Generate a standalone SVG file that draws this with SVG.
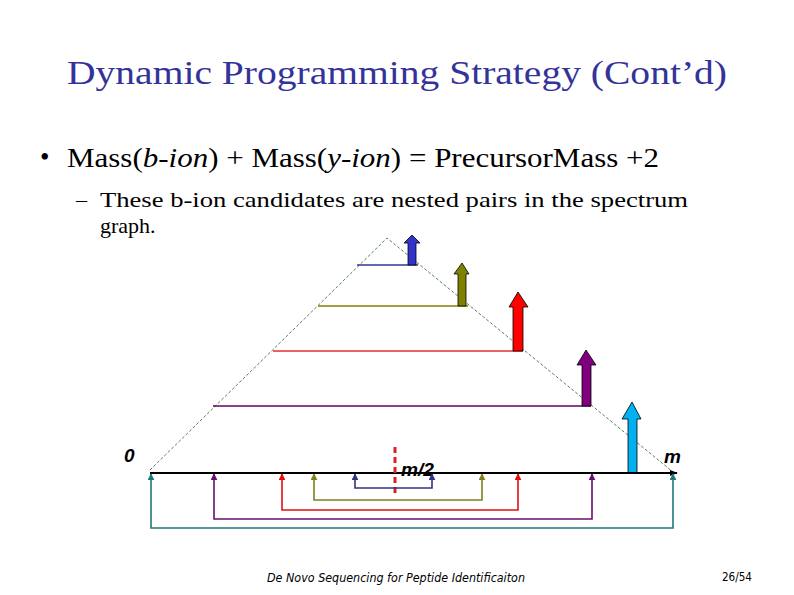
<svg xmlns="http://www.w3.org/2000/svg" width="794" height="595" viewBox="0 0 794 595">
<style>
.serif{font-family:"Liberation Serif","DejaVu Serif",serif}
.title{font-size:33px;fill:#333399}
.body{font-size:27px;fill:#000}
.sub{font-size:22px;fill:#000}
.lbl{font-family:"Liberation Sans",Arial,sans-serif;font-weight:bold;font-style:italic;font-size:19px;fill:#000}
.foot{font-family:"DejaVu Sans","Liberation Sans",sans-serif;font-size:11.5px;fill:#000}
.dash{stroke:#2f5f2f;stroke-width:0.8;stroke-dasharray:3,2;fill:none}
.lvl{stroke-width:1.3;fill:none}
.br{stroke-width:1.6;fill:none}
</style>
<defs>
<marker id="ah" viewBox="0 0 10 10" refX="9" refY="5" markerWidth="7" markerHeight="7" orient="auto-start-reverse" markerUnits="userSpaceOnUse"><path d="M0,0 L10,5 L0,10 z" fill="context-stroke"/></marker>
<marker id="ax" viewBox="0 0 10 10" refX="9" refY="5" markerWidth="8" markerHeight="8" orient="auto" markerUnits="userSpaceOnUse"><path d="M0,1 L10,5 L0,9 z" fill="#000"/></marker>
</defs>
<rect width="794" height="595" fill="#fff"/>
<g id="texts">
<text class="serif title" x="397" y="84" text-anchor="middle" textLength="660" lengthAdjust="spacingAndGlyphs">Dynamic Programming Strategy (Cont’d)</text>
<text class="serif body" x="40" y="166">•</text>
<text class="serif body" x="67" y="167" textLength="592" lengthAdjust="spacingAndGlyphs">Mass(<tspan font-style="italic">b-ion</tspan>) + Mass(<tspan font-style="italic">y-ion</tspan>) = PrecursorMass +2</text>
<text class="serif sub" x="76" y="207">–</text>
<text class="serif sub" x="100" y="207" textLength="588" lengthAdjust="spacingAndGlyphs">These b-ion candidates are nested pairs in the spectrum</text>
<text class="serif sub" x="100" y="233">graph.</text>
<text class="foot" x="267" y="582" font-style="italic" textLength="258" lengthAdjust="spacingAndGlyphs">De Novo Sequencing for Peptide Identificaiton</text>
<text class="foot" x="722" y="581" textLength="30" lengthAdjust="spacingAndGlyphs">26/54</text>
</g>
<g id="pyramid">
<path class="dash" d="M150,470 L387,238 L673,472"/>
</g>
<g id="levels">
<line class="lvl" x1="357" y1="265" x2="418" y2="265" stroke="#333399"/>
<line class="lvl" x1="318" y1="306" x2="468" y2="306" stroke="#808000"/>
<line class="lvl" x1="273" y1="351" x2="523" y2="351" stroke="#e03030"/>
<line class="lvl" x1="213" y1="406" x2="591" y2="406" stroke="#660066"/>
</g>
<g id="peaks" stroke="#000" stroke-width="0.8">
<path d="M408,265 V243 H404 L412,235 L420,243 H416 V265 Z" fill="#3333cc"/>
<path d="M458,306 V274 H454 L462,263 L469,274 H466 V306 Z" fill="#808000"/>
<path d="M513,351 V307 H509 L518,292 L528,307 H523 V351 Z" fill="#ff0000"/>
<path d="M582,406 V365 H577 L586,350 L596,365 H591 V406 Z" fill="#800080"/>
<path d="M628,473 V419 H622 L632,402 L641,419 H637 V473 Z" fill="#00b0f0"/>
</g>
<g id="axis">
<line x1="150" y1="473" x2="677" y2="473" stroke="#000" stroke-width="2.2" marker-end="url(#ax)"/>
<line x1="395" y1="447" x2="395" y2="493" stroke="#e02020" stroke-width="3" stroke-dasharray="6,4"/>
<text class="lbl" x="124" y="462">0</text>
<text class="lbl" x="401" y="476" textLength="33" lengthAdjust="spacingAndGlyphs">m/2</text>
<text class="lbl" x="664" y="463">m</text>
</g>
<g id="connectors">
<path class="br" d="M355,474 V488 H432 V474" stroke="#333380" marker-start="url(#ah)" marker-end="url(#ah)"/>
<path class="br" d="M314,474 V500 H482 V474" stroke="#808020" marker-start="url(#ah)" marker-end="url(#ah)"/>
<path class="br" d="M282,474 V510 H518 V474" stroke="#e01010" marker-start="url(#ah)" marker-end="url(#ah)"/>
<path class="br" d="M214,474 V519 H592 V474" stroke="#66106e" marker-start="url(#ah)" marker-end="url(#ah)"/>
<path class="br" d="M151,474 V528 H673 V474" stroke="#207878" marker-start="url(#ah)" marker-end="url(#ah)"/>
</g>
</svg>
